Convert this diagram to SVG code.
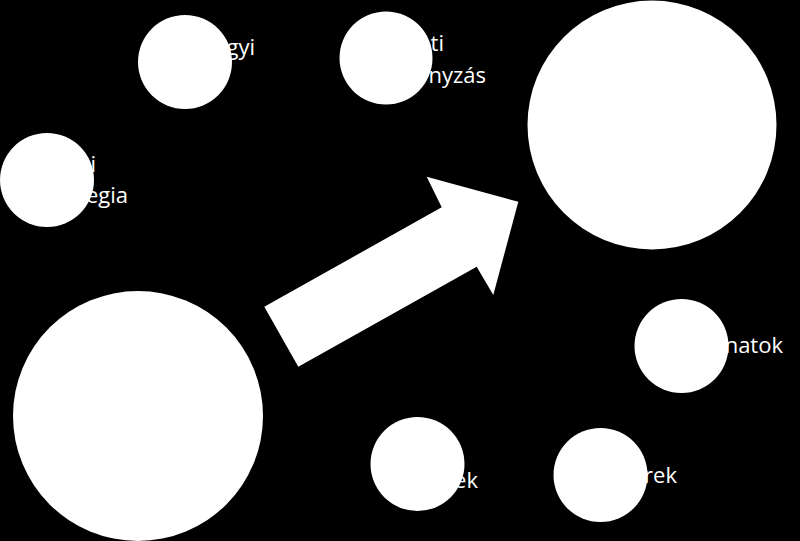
<svg xmlns="http://www.w3.org/2000/svg" width="800" height="541" viewBox="0 0 800 541">
<style>
.c{fill:#ffffff;stroke:none}
.t{fill:#ffffff;font-family:"Open Sans","DejaVu Sans",sans-serif;font-size:22px;text-anchor:end}
</style>
<rect x="0" y="0" width="800" height="541" fill="#000000"/>
<g id="connectors">
<polygon class="c" points="264.3,306.7 441.7,207.3 426.7,176.7 518.3,201.7 493.3,295 476.7,266.7 298.3,366.7"/>
</g>
<g id="node-big-top"><circle class="c" cx="652" cy="125" r="124.5"/></g>
<g id="node-big-bottom"><circle class="c" cx="138" cy="416" r="125"/></g>
<g id="node-gyi"><circle class="c" cx="185" cy="62" r="47"/><text class="t" x="255" y="55">gyi</text></g>
<g id="node-nyzas"><circle class="c" cx="386" cy="58" r="46.5"/><text class="t" x="444" y="51">ti</text><text class="t" x="486" y="83">nyzás</text></g>
<g id="node-egia"><circle class="c" cx="47" cy="180" r="47"/><text class="t" x="96" y="172">i</text><text class="t" x="128" y="203">egia</text></g>
<g id="node-natok"><circle class="c" cx="681.5" cy="346" r="47"/><text class="t" x="783" y="353">natok</text></g>
<g id="node-ek"><circle class="c" cx="417.5" cy="464" r="47"/><text class="t" x="478" y="488">ek</text></g>
<g id="node-rek"><circle class="c" cx="600.5" cy="475" r="47"/><text class="t" x="677" y="483">rek</text></g>
</svg>
